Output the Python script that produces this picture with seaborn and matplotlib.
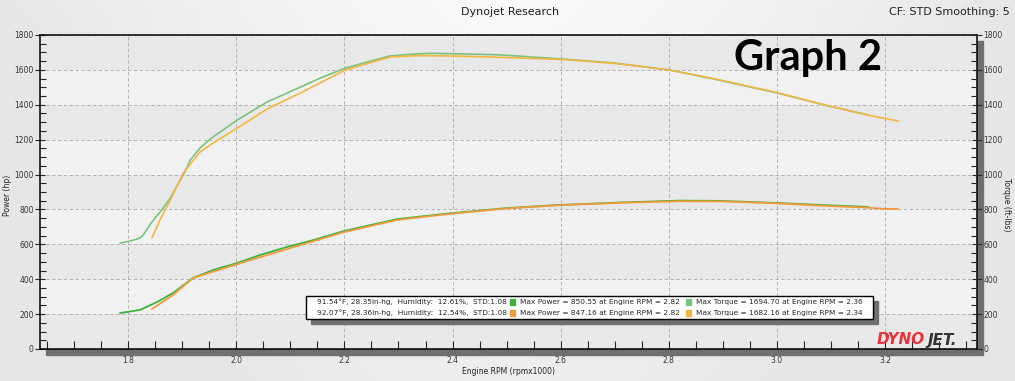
import numpy as np
import pandas as pd
import seaborn as sns
from matplotlib import pyplot as plt
from matplotlib.patches import Rectangle
from matplotlib.ticker import MultipleLocator

# run 1 (green) torque / power
rpm_tq_1 = [1.785, 1.804, 1.822, 1.828, 1.844, 1.863, 1.878, 1.907, 1.915, 1.933, 1.952, 2.002,
            2.057, 2.119, 2.156, 2.202, 2.243, 2.285, 2.335, 2.36, 2.396, 2.452, 2.489, 2.60,
            2.698, 2.80, 2.883, 3.0, 3.087, 3.169]
tq_1 = [607, 619, 636, 654, 728, 800, 866, 1026, 1084, 1152, 1204, 1313,
        1416, 1502, 1554, 1611, 1646, 1680, 1692, 1695, 1693, 1689, 1686, 1663,
        1640, 1600, 1548, 1468, 1399, 1342]
rpm_hp_1 = [1.785, 1.822, 1.854, 1.883, 1.92, 1.957, 2.002, 2.044, 2.094, 2.143, 2.2, 2.298,
            2.402, 2.502, 2.60, 2.711, 2.82, 2.896, 3.0, 3.08, 3.169]
hp_1 = [206, 224, 270, 321, 407, 453, 493, 539, 585, 625, 677, 745,
        780, 808, 826, 840, 850.5, 849, 837, 826, 814]

# run 2 (orange) torque / power
rpm_tq_2 = [1.844, 1.859, 1.878, 1.902, 1.933, 1.952, 2.002, 2.057, 2.119, 2.202, 2.285, 2.34,
            2.396, 2.489, 2.60, 2.698, 2.80, 2.883, 3.0, 3.087, 3.169, 3.224]
tq_2 = [636, 740, 854, 1009, 1130, 1170, 1267, 1376, 1468, 1600, 1674, 1682,
        1680, 1672, 1660, 1638, 1600, 1550, 1470, 1400, 1340, 1307]
rpm_hp_2 = [1.844, 1.883, 1.92, 2.002, 2.094, 2.2, 2.298, 2.402, 2.502, 2.60, 2.711, 2.82,
            2.896, 3.0, 3.08, 3.169, 3.2, 3.224]
hp_2 = [229, 310, 407, 487, 573, 671, 740, 777, 806, 825, 838, 847,
        846, 835, 822, 810, 803, 803]

x_ticks = [1.8, 2.0, 2.2, 2.4, 2.6, 2.8, 3.0, 3.2]
y_ticks = [0, 200, 400, 600, 800, 1000, 1200, 1400, 1600, 1800]

legend_conditions = ["91.54°F, 28.35in-hg,  Humidity:  12.61%,  STD:1.08",
                     "92.07°F, 28.36in-hg,  Humidity:  12.54%,  STD:1.08"]
legend_power = ["Max Power = 850.55 at Engine RPM = 2.82",
                "Max Power = 847.16 at Engine RPM = 2.82"]
legend_torque = ["Max Torque = 1694.70 at Engine RPM = 2.36",
                 "Max Torque = 1682.16 at Engine RPM = 2.34"]

W, H = 1015, 381
green_tq, green_hp = '#78c47e', '#3cb43c'
orange_tq, orange_hp = '#f5b442', '#f39a3c'

sns.set_style("ticks")
plt.rcParams['font.family'] = ['DejaVu Sans']

fig = plt.figure(figsize=(W / 100, H / 100), dpi=100)


def fx(px):
    return px / W


def fy(py):
    return 1 - py / H


# soft grey background
bg = fig.add_axes([0, 0, 1, 1], zorder=-10)
gx, gy = np.meshgrid(np.linspace(-1, 1, 200), np.linspace(0, 1, 80))
shade = 0.97 - 0.07 * np.clip(np.abs(gx) ** 1.5 + gy * 0.6, 0, 1)
bg.imshow(shade, cmap='gray', vmin=0, vmax=1, aspect='auto', extent=[0, 1, 0, 1])
bg.axis('off')

# plot box shadow
fig.patches.append(Rectangle((fx(46), fy(355)), fx(983 - 46), (355 - 41) / H,
                             transform=fig.transFigure, color='#6f6f6f', zorder=-1))

ax = fig.add_axes([fx(40), fy(349), fx(977 - 40), (349 - 35) / H])
ax.set_facecolor('#e8e8e8')
# alternating light bands between the grid lines
for lo in y_ticks[:-1:2]:
    ax.axhspan(lo + 200, lo + 400, color='#f1f1f1', zorder=0, lw=0)

sns.lineplot(x=rpm_tq_1, y=tq_1, ax=ax, color=green_tq, lw=1.2)
sns.lineplot(x=rpm_hp_1, y=hp_1, ax=ax, color=green_hp, lw=1.3)
sns.lineplot(x=rpm_tq_2, y=tq_2, ax=ax, color=orange_tq, lw=1.2)
sns.lineplot(x=rpm_hp_2, y=hp_2, ax=ax, color=orange_hp, lw=1.3)

ax.set_xlim(1.637, 3.370)
ax.set_ylim(0, 1800)
ax.set_xticks(x_ticks)
ax.set_xticklabels([f"{v:.1f}" for v in x_ticks])
ax.set_yticks(y_ticks)
ax.xaxis.set_minor_locator(MultipleLocator(0.05))
ax.yaxis.set_minor_locator(MultipleLocator(50))
ax.grid(True, which='major', color='#a8a8a8', ls=(0, (4, 3)), lw=0.6)
ax.tick_params(axis='y', which='major', direction='inout', length=7, width=0.8,
               labelsize=5.5, pad=1, labelcolor='#333333')
ax.tick_params(axis='y', which='minor', direction='in', length=4, width=0.8)
ax.tick_params(axis='x', which='major', direction='in', length=6, width=0.8,
               labelsize=5.5, pad=5, labelcolor='#333333')
ax.tick_params(axis='x', which='minor', direction='in', length=6, width=0.8)
for s in ax.spines.values():
    s.set_color('black')
    s.set_linewidth(1.1)

ax2 = ax.twinx()
ax2.set_ylim(0, 1800)
ax2.set_yticks(y_ticks)
ax2.yaxis.set_minor_locator(MultipleLocator(50))
ax2.tick_params(axis='y', which='major', direction='inout', length=7, width=0.8,
                labelsize=5.5, pad=1, labelcolor='#333333')
ax2.tick_params(axis='y', which='minor', direction='in', length=4, width=0.8)
for s in ax2.spines.values():
    s.set_visible(False)

# axis titles
fig.text(fx(508), fy(371), 'Engine RPM (rpmx1000)', fontsize=5.5, ha='center', va='center',
         color='#222222')
fig.text(fx(8), fy(195), 'Power (hp)', fontsize=5.5, rotation=90, ha='center', va='center',
         color='#222222')
fig.text(fx(1007), fy(205), 'Torque (ft-lbs)', fontsize=5.5, rotation=270, ha='center',
         va='center', color='#222222')

# header texts
fig.text(fx(510), fy(12), 'Dynojet Research', fontsize=8, ha='center', va='center',
         color='#222222')
fig.text(fx(1010), fy(12), 'CF: STD Smoothing: 5', fontsize=8, ha='right', va='center',
         color='#222222')
fig.text(fx(808), fy(58), 'Graph 2', fontsize=30, fontweight='bold',
         family='Lato', ha='center', va='center', color='black')

# run info box
fig.patches.append(Rectangle((fx(311), fy(324)), fx(873 - 306), (319 - 296) / H,
                             transform=fig.transFigure, color='#6f6f6f', zorder=2))
fig.patches.append(Rectangle((fx(306), fy(319)), fx(873 - 306), (319 - 296) / H,
                             transform=fig.transFigure, facecolor='white',
                             edgecolor='black', lw=1, zorder=3))
row_y = [302, 313]
power_cols = [green_hp, orange_hp]
torque_cols = [green_tq, orange_tq]
for i in range(2):
    fig.text(fx(317), fy(row_y[i]), legend_conditions[i], fontsize=5.3, va='center', zorder=4)
    fig.patches.append(Rectangle((fx(510), fy(row_y[i] + 3)), fx(5), 6 / H,
                                 transform=fig.transFigure, color=power_cols[i], zorder=4))
    fig.text(fx(520), fy(row_y[i]), legend_power[i], fontsize=5.3, va='center', zorder=4)
    fig.patches.append(Rectangle((fx(686), fy(row_y[i] + 3)), fx(5), 6 / H,
                                 transform=fig.transFigure, color=torque_cols[i], zorder=4))
    fig.text(fx(696), fy(row_y[i]), legend_torque[i], fontsize=5.3, va='center', zorder=4)

# logo
fig.text(fx(877), fy(340), 'DYNO', fontsize=11, fontweight='heavy', style='italic',
         color='#e8323c', va='center', ha='left')
fig.text(fx(928), fy(340), 'JET.', fontsize=11, fontweight='heavy', style='italic',
         color='#333333', va='center', ha='left')

fig.savefig('out.png', dpi=100)
